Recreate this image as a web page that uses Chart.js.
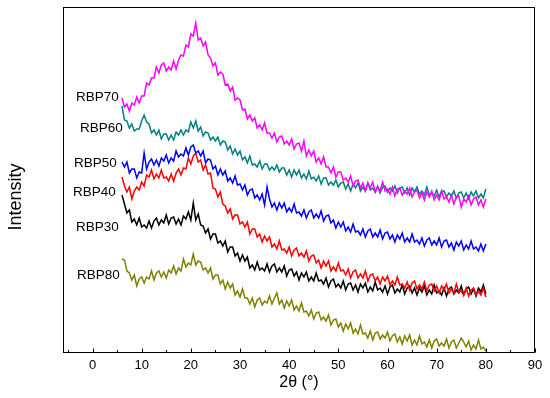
<!DOCTYPE html>
<html>
<head>
<meta charset="utf-8">
<script src="https://cdn.jsdelivr.net/npm/chart.js@4/dist/chart.umd.min.js"></script>
<style>
  html, body { margin: 0; padding: 0; background: #fff; }
  canvas { display: block; }
</style>
</head>
<body>
<canvas id="xrd" width="550" height="398"></canvas>
<script>
// 2theta sampling (deg)
const angles = [
  6, 6.5, 7, 7.5, 8, 8.5, 9, 9.5, 10, 10.5, 11, 11.5,
  12, 12.5, 13, 13.5, 14, 14.5, 15, 15.5, 16, 16.5, 17, 17.5,
  18, 18.5, 19, 19.5, 20, 20.5, 21, 21.5, 22, 22.5, 23, 23.5,
  24, 24.5, 25, 25.5, 26, 26.5, 27, 27.5, 28, 28.5, 29, 29.5,
  30, 30.5, 31, 31.5, 32, 32.5, 33, 33.5, 34, 34.5, 35, 35.5,
  36, 36.5, 37, 37.5, 38, 38.5, 39, 39.5, 40, 40.5, 41, 41.5,
  42, 42.5, 43, 43.5, 44, 44.5, 45, 45.5, 46, 46.5, 47, 47.5,
  48, 48.5, 49, 49.5, 50, 50.5, 51, 51.5, 52, 52.5, 53, 53.5,
  54, 54.5, 55, 55.5, 56, 56.5, 57, 57.5, 58, 58.5, 59, 59.5,
  60, 60.5, 61, 61.5, 62, 62.5, 63, 63.5, 64, 64.5, 65, 65.5,
  66, 66.5, 67, 67.5, 68, 68.5, 69, 69.5, 70, 70.5, 71, 71.5,
  72, 72.5, 73, 73.5, 74, 74.5, 75, 75.5, 76, 76.5, 77, 77.5,
  78, 78.5, 79, 79.5, 80
];

// intensities (offset, arbitrary units)
const rbp70 = [
  255, 246, 249, 242, 250, 248, 256, 250, 257, 257, 270, 268,
  275, 275, 286, 280, 288, 290, 282, 286, 283, 292, 284, 293,
  298, 297, 308, 306, 319, 317, 330, 313, 315, 307, 311, 298,
  295, 287, 290, 278, 281, 279, 268, 269, 262, 266, 253, 255,
  253, 243, 244, 234, 238, 232, 235, 225, 228, 223, 230, 220,
  220, 215, 220, 211, 216, 217, 209, 212, 208, 214, 204, 209,
  210, 202, 212, 197, 203, 197, 202, 191, 195, 189, 196, 186,
  186, 180, 186, 176, 181, 181, 173, 175, 171, 177, 167, 172,
  173, 165, 170, 162, 170, 165, 171, 161, 166, 162, 171, 162,
  164, 159, 166, 157, 164, 165, 158, 162, 159, 165, 156, 161,
  163, 155, 160, 153, 161, 156, 162, 153, 158, 153, 162, 154,
  156, 151, 158, 149, 156, 157, 146, 154, 151, 157, 148, 154,
  156, 148, 153, 146, 154
];
const rbp60 = [
  247, 233, 232, 225, 229, 222, 224, 224, 232, 238, 231, 229,
  220, 223, 218, 223, 214, 219, 219, 213, 218, 213, 221, 218,
  223, 218, 223, 221, 231, 225, 232, 222, 226, 217, 221, 220,
  213, 216, 212, 216, 208, 212, 211, 203, 207, 199, 204, 198,
  202, 193, 196, 190, 197, 188, 189, 186, 192, 184, 189, 189,
  183, 186, 183, 188, 181, 185, 185, 178, 183, 176, 183, 178,
  183, 175, 179, 174, 182, 174, 176, 172, 177, 169, 175, 175,
  168, 171, 168, 173, 166, 170, 171, 164, 169, 162, 169, 165,
  170, 162, 166, 162, 170, 163, 165, 161, 167, 160, 166, 167,
  161, 165, 162, 167, 160, 165, 166, 160, 165, 158, 165, 161,
  166, 159, 162, 158, 166, 158, 160, 157, 163, 156, 162, 162,
  156, 160, 157, 162, 155, 160, 161, 155, 160, 154, 161, 157,
  162, 155, 159, 155, 164
];
const rbp50 = [
  191, 186, 191, 180, 184, 184, 175, 181, 180, 200, 184, 191,
  194, 188, 193, 187, 195, 192, 198, 190, 195, 192, 202, 196,
  199, 197, 205, 198, 206, 208, 200, 202, 197, 202, 190, 194,
  193, 184, 187, 178, 184, 178, 182, 172, 175, 170, 177, 168,
  169, 163, 168, 158, 163, 164, 155, 158, 153, 159, 148, 166,
  154, 146, 150, 143, 150, 145, 150, 141, 145, 141, 149, 140,
  141, 137, 143, 135, 141, 143, 135, 139, 135, 142, 132, 137,
  138, 130, 133, 125, 131, 126, 131, 122, 126, 121, 129, 121,
  122, 118, 124, 116, 122, 124, 116, 120, 116, 123, 114, 120,
  121, 114, 118, 111, 118, 114, 120, 111, 115, 111, 119, 111,
  113, 109, 115, 107, 113, 115, 108, 112, 108, 115, 106, 112,
  113, 106, 110, 103, 111, 107, 112, 103, 108, 104, 112, 104,
  106, 102, 109, 102, 109
];
const rbp40 = [
  176, 167, 161, 166, 154, 162, 166, 163, 171, 167, 178, 176,
  183, 174, 179, 175, 183, 175, 176, 172, 179, 172, 180, 184,
  178, 185, 184, 195, 189, 197, 200, 191, 193, 183, 188, 179,
  180, 165, 164, 156, 161, 149, 147, 140, 144, 134, 138, 138,
  129, 131, 126, 131, 119, 124, 124, 116, 119, 111, 117, 112,
  116, 106, 109, 104, 112, 103, 104, 100, 106, 97, 103, 105,
  97, 100, 96, 102, 92, 97, 98, 90, 93, 85, 92, 87,
  92, 82, 86, 82, 90, 82, 83, 78, 84, 75, 81, 83,
  75, 79, 75, 82, 72, 78, 79, 72, 76, 69, 76, 72,
  77, 68, 72, 68, 76, 68, 69, 65, 71, 63, 70, 72,
  64, 68, 64, 71, 62, 68, 69, 62, 67, 60, 67, 63,
  69, 60, 64, 60, 69, 61, 62, 58, 65, 57, 63, 65,
  58, 62, 58, 65, 56
];
const rbp30 = [
  158, 149, 140, 143, 131, 134, 128, 135, 126, 128, 125, 132,
  125, 132, 135, 128, 133, 130, 138, 129, 135, 136, 129, 134,
  128, 137, 134, 141, 133, 150, 133, 139, 128, 127, 120, 124,
  114, 119, 119, 110, 112, 107, 112, 101, 106, 106, 97, 100,
  92, 98, 92, 96, 85, 88, 83, 91, 83, 85, 82, 89,
  81, 87, 89, 81, 85, 81, 87, 77, 83, 84, 77, 81,
  73, 80, 76, 81, 72, 76, 72, 80, 72, 73, 69, 75,
  66, 72, 74, 66, 69, 65, 72, 63, 69, 70, 63, 68,
  61, 69, 65, 70, 61, 66, 62, 71, 63, 65, 61, 67,
  59, 66, 68, 60, 64, 61, 68, 59, 65, 67, 60, 65,
  58, 65, 61, 67, 58, 63, 59, 68, 60, 62, 58, 65,
  57, 64, 66, 59, 63, 60, 67, 58, 64, 66, 59, 64,
  57, 65, 61, 68, 59
];
const rbp80 = [
  94, 93, 82, 80, 73, 78, 67, 74, 76, 70, 76, 74,
  82, 73, 80, 82, 76, 81, 75, 83, 80, 87, 79, 85,
  82, 94, 86, 90, 88, 99, 88, 92, 91, 83, 85, 80,
  85, 74, 78, 78, 69, 73, 64, 71, 65, 69, 58, 62,
  56, 64, 55, 55, 49, 55, 46, 53, 55, 48, 52, 50,
  57, 49, 55, 60, 49, 53, 45, 52, 47, 53, 43, 47,
  42, 50, 41, 42, 37, 43, 34, 40, 41, 33, 36, 32,
  38, 28, 33, 34, 26, 30, 22, 29, 24, 30, 20, 24,
  19, 28, 19, 20, 15, 22, 13, 20, 21, 14, 18, 15,
  21, 12, 17, 19, 11, 16, 9, 17, 12, 18, 8, 13,
  8, 17, 9, 11, 6, 13, 5, 12, 14, 7, 10, 7,
  14, 5, 11, 13, 5, 10, 15, 11, 6, 12, 3, 8,
  4, 13, 4, 6, 2
];

const seriesNames = ['RBP70', 'RBP60', 'RBP50', 'RBP40', 'RBP30', 'RBP80'];
const seriesValues = [rbp70, rbp60, rbp50, rbp40, rbp30, rbp80];
const seriesColors = ['#ff00ff', '#008080', '#0000ff', '#ff0000', '#000000', '#808000'];

const xTicks = [0, 10, 20, 30, 40, 50, 60, 70, 80, 90];
const xMinorTicks = [-5, 5, 15, 25, 35, 45, 55, 65, 75, 85];

// where the curve names sit (data units, right edge of text)
const labelX = [5.35, 6.15, 4.95, 4.75, 5.35, 5.55];
const labelY = [256, 225, 190, 161, 126, 78];

const FONT = "'Liberation Sans', Arial, sans-serif";

const decorations = {
    id: 'decorations',
    afterDatasetsDraw(chart) {
        const ctx = chart.ctx;
        const a = chart.chartArea;
        const x = chart.scales.x;
        const y = chart.scales.y;
        ctx.save();
        // frame
        ctx.strokeStyle = '#000';
        ctx.lineWidth = 1;
        ctx.strokeRect(Math.round(a.left) + 0.5, Math.round(a.top) + 0.5,
            Math.round(a.right - a.left) - 1, Math.round(a.bottom - a.top) - 1);
        // inward ticks on the bottom axis
        const base = Math.round(a.bottom) - 0.5;
        ctx.beginPath();
        xTicks.forEach(function (v) {
            const px = Math.round(x.getPixelForValue(v)) + 0.5;
            ctx.moveTo(px, base);
            ctx.lineTo(px, base - 4);
        });
        xMinorTicks.forEach(function (v) {
            const px = Math.round(x.getPixelForValue(v)) + 0.5;
            ctx.moveTo(px, base);
            ctx.lineTo(px, base - 2.5);
        });
        ctx.stroke();
        // curve names
        ctx.fillStyle = '#000';
        ctx.font = '13.5px ' + FONT;
        ctx.textAlign = 'right';
        ctx.textBaseline = 'middle';
        seriesNames.forEach(function (name, i) {
            ctx.fillText(name, x.getPixelForValue(labelX[i]), y.getPixelForValue(labelY[i]));
        });
        // y title
        ctx.font = '18px ' + FONT;
        ctx.textAlign = 'center';
        ctx.translate(16, 197);
        ctx.rotate(-Math.PI / 2);
        ctx.fillText('Intensity', 0, 0);
        ctx.restore();
    }
};

new Chart(document.getElementById('xrd').getContext('2d'), {
    type: 'line',
    data: {
        datasets: seriesNames.map(function (name, i) {
            return {
                label: name,
                data: angles.map(function (a, j) { return { x: a, y: seriesValues[i][j] }; }),
                borderColor: seriesColors[i],
                borderWidth: 1.5,
                borderJoinStyle: 'miter',
                pointRadius: 0,
                tension: 0,
                fill: false
            };
        })
    },
    options: {
        responsive: false,
        animation: false,
        layout: { padding: { top: 7, right: 15, left: 0, bottom: 0 } },
        plugins: {
            legend: { display: false },
            tooltip: { enabled: false }
        },
        scales: {
            x: {
                type: 'linear',
                min: -6,
                max: 90,
                afterBuildTicks: function (scale) {
                    scale.ticks = xTicks.map(function (v) { return { value: v }; });
                },
                afterFit: function (scale) { scale.height = 45; },
                grid: { display: false, drawTicks: false },
                border: { display: false },
                ticks: {
                    padding: 5,
                    maxRotation: 0,
                    color: '#000',
                    font: { family: FONT, size: 13 }
                },
                title: {
                    display: true,
                    text: '2θ (°)',
                    color: '#000',
                    font: { family: FONT, size: 16 },
                    padding: { top: 0, bottom: 6 }
                }
            },
            y: {
                type: 'linear',
                min: 0,
                max: 346,
                afterFit: function (scale) { scale.width = 63; },
                grid: { display: false, drawTicks: false },
                border: { display: false },
                ticks: { display: false }
            }
        }
    },
    plugins: [decorations]
});
</script>
</body>
</html>
